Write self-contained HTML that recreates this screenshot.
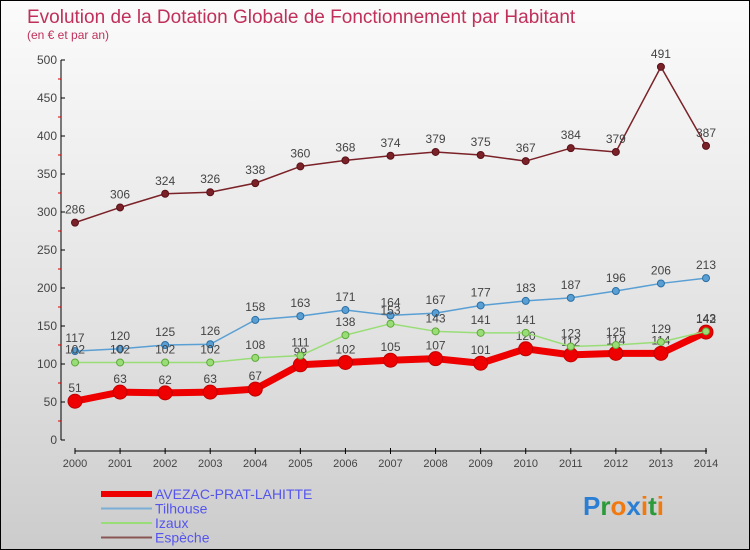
<!DOCTYPE html>
<html><head><meta charset="utf-8"><style>
html,body{margin:0;padding:0}
body{width:750px;height:550px;overflow:hidden;font-family:"Liberation Sans",sans-serif}
#wrap{position:relative;width:748px;height:548px;border:1px solid #000;background:linear-gradient(#fbfbfb,#e2e2e2 60%,#cccccc)}
</style></head><body>
<div id="wrap">
<svg id="chart" width="748" height="548" style="position:absolute;left:0;top:0"></svg>
</div>
<script>
const years=[2000,2001,2002,2003,2004,2005,2006,2007,2008,2009,2010,2011,2012,2013,2014];
const avezac=[51,63,62,63,67,99,102,105,107,101,120,112,114,114,142];
const tilhouse=[117,120,125,126,158,163,171,164,167,177,183,187,196,206,213];
const izaux=[102,102,102,102,108,111,138,153,143,141,141,123,125,129,143];
const espeche=[286,306,324,326,338,360,368,374,379,375,367,384,379,491,387];
const yTicks=[0,50,100,150,200,250,300,350,400,450,500];
const NS="http://www.w3.org/2000/svg";
const svg=document.getElementById('chart');
const x=i=>74+i*(705-74)/(years.length-1);
const y=v=>439-v*0.76;
function el(t,a,p){const e=document.createElementNS(NS,t);for(const k in a)e.setAttribute(k,a[k]);(p||svg).appendChild(e);return e;}
let t=el('text',{x:26,y:22,fill:'#c0305a','font-size':19});t.textContent='Evolution de la Dotation Globale de Fonctionnement par Habitant';

t=el('text',{x:26,y:38,fill:'#c0305a','font-size':12});t.textContent='(en € et par an)';

// y axis
let ya=el('line',{x1:60,y1:59,x2:60,y2:439,stroke:'#000','stroke-width':1});

yTicks.forEach(v=>{
 el('line',{x1:60,y1:y(v),x2:64,y2:y(v),stroke:'#000'});
 if(v<500) el('line',{x1:57,y1:y(v+25),x2:60,y2:y(v+25),stroke:'#d00'});
 const tx=el('text',{x:56,y:y(v)+4,'text-anchor':'end','font-size':12,fill:'#444'});tx.textContent=v;
 
});
let xa=el('line',{x1:74,y1:450,x2:706,y2:450,stroke:'#000'});

years.forEach((yr,i)=>{
 el('line',{x1:x(i),y1:447,x2:x(i),y2:453,stroke:'#000'});
 const tx=el('text',{x:x(i),y:466,'text-anchor':'middle','font-size':11,fill:'#444'});tx.textContent=yr;
 
});
function series(vals,color,w,r,name,dark){
 const g=el('g',{});
 
 el('polyline',{points:vals.map((v,i)=>x(i)+','+y(v)).join(' '),fill:'none',stroke:color,'stroke-width':w,'stroke-linejoin':'round'},g);
 vals.forEach((v,i)=>{
  const c=el('circle',{cx:x(i),cy:y(v),r:r,fill:color,stroke:dark,'stroke-width':1},g);
  
  const tx=el('text',{x:x(i),y:y(v)-9,'text-anchor':'middle','font-size':12,fill:'#444'},g);tx.textContent=v;
  
 });
}
series(espeche,'#7a2228',1.5,3.5,'espeche-series','#5a1018');
series(tilhouse,'#5a9fd4',1.5,3.5,'tilhouse-series','#2a6fa4');
series(avezac,'#ee0000',7,7,'avezac-series','#c00000');
series(izaux,'#99dd77',1.5,3.5,'izaux-series','#5fa83a');
// legend
const leg=[['AVEZAC-PRAT-LAHITTE','#ee0000',6],['Tilhouse','#7aaed6',2],['Izaux','#99dd77',2],['Espèche','#8a5555',2]];
leg.forEach((l,i)=>{
 const g=el('g',{});
 const yy=493+i*14.5;
 el('line',{x1:100,y1:yy,x2:151,y2:yy,stroke:l[1],'stroke-width':l[2]},g);
 const tx=el('text',{x:154,y:yy+5,'font-size':14,fill:'#5555ee'},g);tx.textContent=l[0];
});
const lg=el('text',{x:582,y:514,'font-size':26,'font-weight':'bold'});

[['P','#2a7fd4'],['r','#2a9a3a'],['o','#f07a10'],['x','#2a7fd4'],['i','#f07a10'],['t','#2a9a3a'],['i','#f07a10']].forEach(p=>{const s=el('tspan',{fill:p[1]},lg);s.textContent=p[0];});
</script>
</body></html>
